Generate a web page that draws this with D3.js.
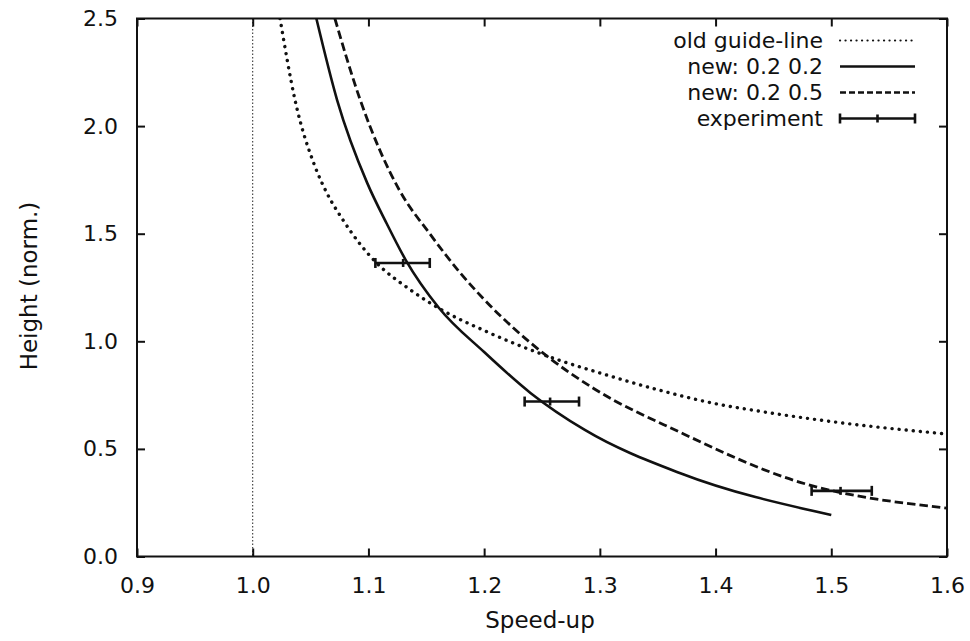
<!DOCTYPE html>
<html>
<head>
<meta charset="utf-8">
<script src="https://cdn.jsdelivr.net/npm/d3@7"></script>
<style>
  body { margin: 0; background: #fff; }
  text { font-family: "DejaVu Sans", sans-serif; fill: #111; }
</style>
</head>
<body>
<div id="chart"></div>
<script>
// values
var xTicks = [0.9, 1.0, 1.1, 1.2, 1.3, 1.4, 1.5, 1.6];
var yTicks = [0.0, 0.5, 1.0, 1.5, 2.0, 2.5];

var oldGuide = [[1.0236, 2.5], [1.0366, 2.12], [1.054, 1.81], [1.064, 1.69], [1.078, 1.564],
    [1.093, 1.45], [1.106, 1.37], [1.136, 1.24], [1.162, 1.15], [1.2, 1.05], [1.266, 0.91],
    [1.3, 0.853], [1.35, 0.775], [1.4, 0.71], [1.438, 0.675], [1.5, 0.627], [1.6, 0.569]];
var new22 = [[1.055, 2.5], [1.073, 2.12], [1.099, 1.735], [1.116, 1.545], [1.132, 1.38],
    [1.161, 1.155], [1.2, 0.95], [1.24, 0.76], [1.287, 0.588], [1.369, 0.388], [1.5, 0.193]];
var new25 = [[1.071, 2.5], [1.093, 2.12], [1.127, 1.70], [1.153, 1.50], [1.179, 1.32],
    [1.199, 1.2], [1.251, 0.945], [1.294, 0.783], [1.369, 0.578], [1.467, 0.355], [1.6, 0.225]];
var experiment = [
    {x: 1.13, lo: 1.106, hi: 1.153, y: 1.364},
    {x: 1.257, lo: 1.235, hi: 1.282, y: 0.72},
    {x: 1.508, lo: 1.483, hi: 1.535, y: 0.305}
];
var legendLabels = ["old guide-line", "new: 0.2 0.2", "new: 0.2 0.5", "experiment"];

var width = 970, height = 641;
var margin = {left: 137, right: 23, top: 18.5, bottom: 84.5};
var w = width - margin.left - margin.right;
var h = height - margin.top - margin.bottom;

var svg = d3.select("#chart").append("svg")
    .attr("width", width)
    .attr("height", height);

var g = svg.append("g")
    .attr("transform", "translate(" + margin.left + "," + margin.top + ")");

var x = d3.scaleLinear().domain([0.9, 1.6]).range([0, w]);
var y = d3.scaleLinear().domain([0, 2.5]).range([h, 0]);

g.append("clipPath").attr("id", "clip")
    .append("rect").attr("width", w).attr("height", h);

// vertical reference at speed-up 1.0
g.append("line")
    .attr("x1", x(1.0)).attr("x2", x(1.0))
    .attr("y1", 0).attr("y2", h)
    .style("stroke", "#222")
    .style("stroke-width", 1)
    .style("stroke-dasharray", "1.5,2");

// axes, ticks pointing inward
function styleAxis(sel){
    sel.select(".domain").remove();
    sel.selectAll(".tick line").style("stroke", "#111").style("stroke-width", 2);
    sel.selectAll("text").style("font-size", "22px").style("fill", "#111")
        .style("font-family", "'DejaVu Sans', sans-serif");
}

g.append("g").attr("transform", "translate(0," + h + ")")
    .call(d3.axisBottom(x).tickValues(xTicks).tickFormat(d3.format(".1f")).tickSize(-8).tickPadding(21))
    .call(styleAxis);
g.append("g")
    .call(d3.axisTop(x).tickValues(xTicks).tickFormat("").tickSize(-8))
    .call(styleAxis);
g.append("g")
    .call(d3.axisLeft(y).tickValues(yTicks).tickFormat(d3.format(".1f")).tickSize(-8).tickPadding(19))
    .call(styleAxis);
g.append("g").attr("transform", "translate(" + w + ",0)")
    .call(d3.axisRight(y).tickValues(yTicks).tickFormat("").tickSize(-8))
    .call(styleAxis);

g.append("rect")
    .attr("width", w).attr("height", h)
    .style("fill", "none")
    .style("stroke", "#111")
    .style("stroke-width", 2);

var line = d3.line()
    .curve(d3.curveMonotoneX)
    .x(function(d){ return x(d[0]); })
    .y(function(d){ return y(d[1]); });

var styles = [
    {data: oldGuide, dash: "0.1,7", cap: "round", sw: 3.4},
    {data: new22, dash: null, cap: "butt", sw: 2.6},
    {data: new25, dash: "8.5,4", cap: "butt", sw: 2.8}
];

styles.forEach(function(s){
    g.append("path")
        .datum(s.data)
        .attr("clip-path", "url(#clip)")
        .attr("d", line)
        .style("fill", "none")
        .style("stroke", "#111")
        .style("stroke-width", s.sw)
        .style("stroke-linecap", s.cap)
        .style("stroke-linejoin", "round")
        .style("stroke-dasharray", s.dash);
});

// error bars
var eb = g.selectAll(".eb").data(experiment).enter().append("g").attr("class", "eb");
eb.append("line")
    .attr("x1", function(d){ return x(d.lo); })
    .attr("x2", function(d){ return x(d.hi); })
    .attr("y1", function(d){ return y(d.y); })
    .attr("y2", function(d){ return y(d.y); });
eb.append("line")
    .attr("x1", function(d){ return x(d.lo); }).attr("x2", function(d){ return x(d.lo); })
    .attr("y1", function(d){ return y(d.y) - 5; }).attr("y2", function(d){ return y(d.y) + 5; });
eb.append("line")
    .attr("x1", function(d){ return x(d.hi); }).attr("x2", function(d){ return x(d.hi); })
    .attr("y1", function(d){ return y(d.y) - 5; }).attr("y2", function(d){ return y(d.y) + 5; });
eb.append("line")
    .attr("x1", function(d){ return x(d.x); }).attr("x2", function(d){ return x(d.x); })
    .attr("y1", function(d){ return y(d.y) - 4; }).attr("y2", function(d){ return y(d.y) + 4; });
eb.selectAll("line").style("stroke", "#111").style("stroke-width", 2.6);

// legend
var legend = g.append("g").attr("transform", "translate(" + (w - 124) + ",22)");
legendLabels.forEach(function(label, i){
    var row = legend.append("g").attr("transform", "translate(0," + (i * 26) + ")");
    row.append("text")
        .attr("x", 0).attr("y", 0).attr("dy", "0.35em")
        .attr("text-anchor", "end")
        .style("font-size", "22px")
        .text(label);
    if(i < 3){
        row.append("line")
            .attr("x1", 17).attr("x2", 92).attr("y1", 0).attr("y2", 0)
            .style("stroke", "#111")
            .style("stroke-width", i === 0 ? 2.2 : 2.6)
            .style("stroke-linecap", i === 0 ? "round" : "butt")
            .style("stroke-dasharray", i === 0 ? "0.1,5.4" : (i === 2 ? "6,3" : null));
    } else {
        row.append("line").attr("x1", 17).attr("x2", 92).attr("y1", 0).attr("y2", 0);
        row.append("line").attr("x1", 17).attr("x2", 17).attr("y1", -5).attr("y2", 5);
        row.append("line").attr("x1", 92).attr("x2", 92).attr("y1", -5).attr("y2", 5);
        row.append("line").attr("x1", 54.5).attr("x2", 54.5).attr("y1", -4).attr("y2", 4);
        row.selectAll("line").style("stroke", "#111").style("stroke-width", 2.6);
    }
});

// axis titles
svg.append("text")
    .attr("x", 540)
    .attr("y", 628)
    .attr("text-anchor", "middle")
    .style("font-size", "23px")
    .text("Speed-up");

svg.append("text")
    .attr("transform", "translate(37,286) rotate(-90)")
    .attr("text-anchor", "middle")
    .style("font-size", "23px")
    .text("Height (norm.)");
</script>
</body>
</html>
